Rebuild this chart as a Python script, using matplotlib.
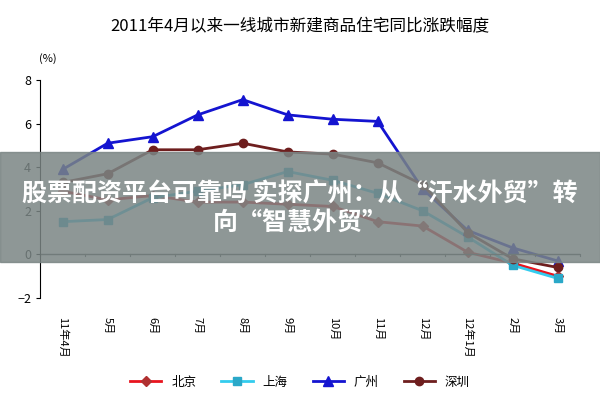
import matplotlib
matplotlib.use("Agg")
import matplotlib.pyplot as plt
from matplotlib.patches import Rectangle

plt.rcParams['font.family'] = ['Noto Sans CJK SC', 'DejaVu Sans']

months = ["11年4月", "5月", "6月", "7月", "8月", "9月", "10月", "11月", "12月", "12年1月", "2月", "3月"]
beijing = [2.9, 2.5, 2.7, 2.4, 2.4, 2.3, 2.2, 1.5, 1.3, 0.1, -0.4, -1.0]
shanghai = [1.5, 1.6, 2.6, 2.9, 3.2, 3.8, 3.4, 2.8, 2.0, 0.8, -0.5, -1.1]
guangzhou = [3.9, 5.1, 5.4, 6.4, 7.1, 6.4, 6.2, 6.1, 3.0, 1.1, 0.3, -0.3]
shenzhen = [3.3, 3.7, 4.8, 4.8, 5.1, 4.7, 4.6, 4.2, 3.2, 1.0, -0.2, -0.6]

fig = plt.figure(figsize=(6, 4), dpi=100)
ax = fig.add_axes([0.067, 0.255, 0.9, 0.545])
x = list(range(len(months)))
ax.plot(x, beijing, color='#E8141E', lw=2, marker='D', ms=5, mfc='#B03030', mec='#B03030', label='北京')
ax.plot(x, shanghai, color='#33CCEE', lw=2, marker='s', ms=6, mfc='#2AA8C8', mec='#2AA8C8', label='上海')
ax.plot(x, guangzhou, color='#1414D0', lw=2, marker='^', ms=7, label='广州')
ax.plot(x, shenzhen, color='#6E1E1E', lw=2, marker='o', ms=6, label='深圳')
ax.set_xlim(-0.5, len(months) - 0.5)
ax.set_ylim(-2, 8)
ax.set_yticks([-2, 0, 2, 4, 6, 8])
ax.set_xticks(x)
ax.set_xticklabels(months, rotation=-90, fontsize=8)
ax.tick_params(axis='y', labelsize=9, length=3)
ax.tick_params(axis='x', length=0, pad=14)
for s in ['top', 'right', 'bottom']:
    ax.spines[s].set_visible(False)
ax.axhline(0, color='#444444', lw=1)
for xi in [i + 0.5 for i in range(-1, len(months))]:
    ax.plot([xi, xi], [0, -0.08], color='#444444', lw=0.8, clip_on=False)
fig.text(0.065, 0.845, "(%)", fontsize=8)
fig.suptitle("2011年4月以来一线城市新建商品住宅同比涨跌幅度", y=0.955, fontsize=12)
fig.legend(loc='lower center', ncol=4, frameon=False, bbox_to_anchor=(0.5, 0.0), fontsize=9, handlelength=2.5)

fig.patches.append(Rectangle((0, 0.345), 1, 0.275, transform=fig.transFigure, color='#7A8584', alpha=0.85, zorder=10))
fig.text(0.5, 0.48, "股票配资平台可靠吗 实探广州：从“汗水外贸”转\n向“智慧外贸”", ha='center', va='center',
         color='white', fontsize=18, fontweight='bold', zorder=11, linespacing=1.25)
fig.savefig("out.png")
